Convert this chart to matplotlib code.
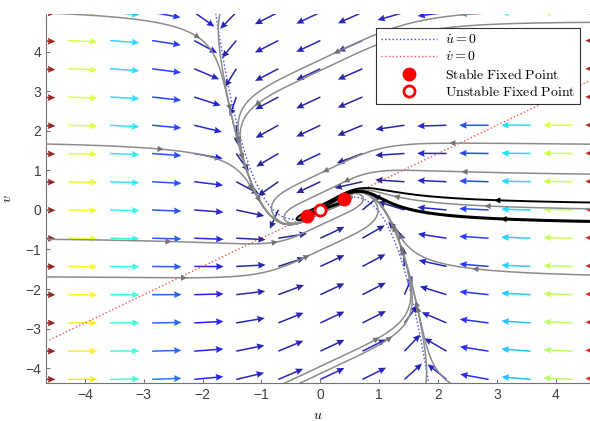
import numpy as np
import matplotlib.pyplot as plt
from matplotlib.lines import Line2D

plt.rcParams['mathtext.fontset'] = 'cm'
plt.rcParams['font.family'] = ['Liberation Sans', 'DejaVu Sans']

# model:  du/dt = -c3 u^3 + c2 u^2 + c1 u - v ,  dv/dt = eps (u - gam v)
c3 = 1.04
c2 = 0.169 * c3
c1 = 0.714 + 0.0893 * c3
eps = 0.5
gam = 1.4

grid_vals = np.linspace(-5, 5, 15)

# fixed points
stable_u = [-0.226, 0.395]
stable_v = [-0.16, 0.28]
unstable_u = [0.0]
unstable_v = [0.0]

# initial conditions of the trajectories
gray_u = [-5, -5, -5, -5, 5, 5, 5, 5, 5, 5, -1.7, -2.14, -1.43, 5, 1.6]
gray_v = [5, 1.68, -0.735, -1.69, 5.05, 4.75, 1.66, 0.9, 0.02, -1.66, 5, -5, -5, -5, -5]
black_u = [5, 5]
black_v = [0.18, -0.30]
black_w = [1.4, 2.2]

xlim = (-4.66, 4.58)
ylim = (-4.38, 4.96)


def rhs(u, v):
    du = -c3 * u**3 + c2 * u**2 + c1 * u - v
    dv = eps * (u - gam * v)
    return du, dv


def integrate(u0, v0, T=40.0, dt=0.004):
    u = np.array(u0, dtype=float)
    v = np.array(v0, dtype=float)
    n = int(T / dt)
    hu = np.empty((n + 1, len(u)))
    hv = np.empty((n + 1, len(u)))
    hu[0], hv[0] = u, v
    for i in range(n):
        k1u, k1v = rhs(u, v)
        k2u, k2v = rhs(u + 0.5 * dt * k1u, v + 0.5 * dt * k1v)
        k3u, k3v = rhs(u + 0.5 * dt * k2u, v + 0.5 * dt * k2v)
        k4u, k4v = rhs(u + dt * k3u, v + dt * k3v)
        u = u + dt / 6 * (k1u + 2 * k2u + 2 * k3u + k4u)
        v = v + dt / 6 * (k1v + 2 * k2v + 2 * k3v + k4v)
        u = np.clip(u, -8, 8)
        v = np.clip(v, -8, 8)
        hu[i + 1], hv[i + 1] = u, v
    return hu, hv


def add_arrows(ax, us, vs, color, fracs=(0.4,)):
    inside = (us > xlim[0]) & (us < xlim[1]) & (vs > ylim[0]) & (vs < ylim[1])
    idx = np.where(inside)[0]
    if len(idx) < 5:
        return
    px, py = us[idx] * 59, vs[idx] * 39.5
    s = np.concatenate([[0], np.cumsum(np.hypot(np.diff(px), np.diff(py)))])
    for f in fracs:
        j = np.searchsorted(s, f * s[-1])
        j = min(max(j, 1), len(idx) - 2)
        a, b = idx[j - 1], idx[j + 1]
        ax.annotate('', xy=(us[b], vs[b]), xytext=(us[a], vs[a]),
                    arrowprops=dict(arrowstyle='-|>', color=color, lw=0,
                                    mutation_scale=11, shrinkA=0, shrinkB=0),
                    zorder=4)


fig = plt.figure(figsize=(5.9, 4.21), dpi=100)
ax = fig.add_axes([0.078, 0.09, 0.922, 0.877])

# direction field, unit arrows coloured by speed
X, Y = np.meshgrid(grid_vals, grid_vals)
DU, DV = rhs(X, Y)
mag = np.hypot(DU, DV)
ax.quiver(X, Y, DU / mag, DV / mag, mag, cmap='jet', clim=(0, 0.95 * mag.max()),
          angles='xy', scale_units='xy', scale=2.0, width=0.0028, headwidth=4.5,
          headlength=5, headaxislength=4.5, alpha=0.85, zorder=1)

# nullclines
uu = np.linspace(-5, 5, 600)
ax.plot(uu, -c3 * uu**3 + c2 * uu**2 + c1 * uu, ':', color='blue', lw=1, alpha=0.75, zorder=2)
ax.plot(uu, uu / gam, ':', color='red', lw=1, alpha=0.7, zorder=2)

# trajectories
gu, gv = integrate(gray_u, gray_v)
for k in range(len(gray_u)):
    ax.plot(gu[:, k], gv[:, k], color='0.55', lw=1.1, zorder=3)
    add_arrows(ax, gu[:, k], gv[:, k], '0.45', fracs=(0.3, 0.6))
bu, bv = integrate(black_u, black_v)
for k in range(len(black_u)):
    ax.plot(bu[:, k], bv[:, k], color='black', lw=black_w[k], zorder=3)
    add_arrows(ax, bu[:, k], bv[:, k], 'black', fracs=(0.25,))

# unstable manifold of the saddle, leaving towards both stable points
jac = np.array([[c1, -1.0], [eps, -eps * gam]])
lam, vec = np.linalg.eig(jac)
w = vec[:, np.argmax(lam.real)].real
mu, mv = integrate([1e-3 * w[0], -1e-3 * w[0]], [1e-3 * w[1], -1e-3 * w[1]], T=60.0)
for k in range(2):
    ax.plot(mu[:, k], mv[:, k], color='black', lw=2, zorder=3)

# fixed points
ax.plot(stable_u, stable_v, 'o', color='red', ms=9, zorder=5)
ax.plot(unstable_u, unstable_v, 'o', mfc='white', mec='red', mew=2, ms=8, zorder=5)

ax.set_xlim(xlim)
ax.set_ylim(ylim)
ax.set_xticks(range(-4, 5))
ax.set_yticks(range(-4, 5))
ax.spines[['top', 'right']].set_visible(False)
for sp in ['left', 'bottom']:
    ax.spines[sp].set_color('0.45')
ax.tick_params(direction='in', length=3, colors='0.45', labelcolor='0.25', labelsize=10)
ax.set_xlabel('$u$', fontsize=10, labelpad=4)
ax.set_ylabel('$v$', fontsize=10, labelpad=8)

handles = [
    Line2D([], [], ls=':', color='blue', lw=1, alpha=0.75),
    Line2D([], [], ls=':', color='red', lw=1, alpha=0.7),
    Line2D([], [], ls='', marker='o', color='red', ms=9),
    Line2D([], [], ls='', marker='o', mfc='white', mec='red', mew=2, ms=8),
]
labels = [r'$\dot{u}=0$', r'$\dot{v}=0$',
          r'$\mathrm{Stable\ Fixed\ Point}$', r'$\mathrm{Unstable\ Fixed\ Point}$']
leg = ax.legend(handles, labels, loc='upper right', bbox_to_anchor=(0.982, 0.962),
                borderaxespad=0, fontsize=10, handlelength=4.0, handletextpad=0.6,
                labelspacing=0.25, borderpad=0.35, fancybox=False, framealpha=1)
leg.get_frame().set_edgecolor('0.2')
leg.get_frame().set_linewidth(0.8)
leg.set_zorder(10)

fig.savefig('out.png', dpi=100)
